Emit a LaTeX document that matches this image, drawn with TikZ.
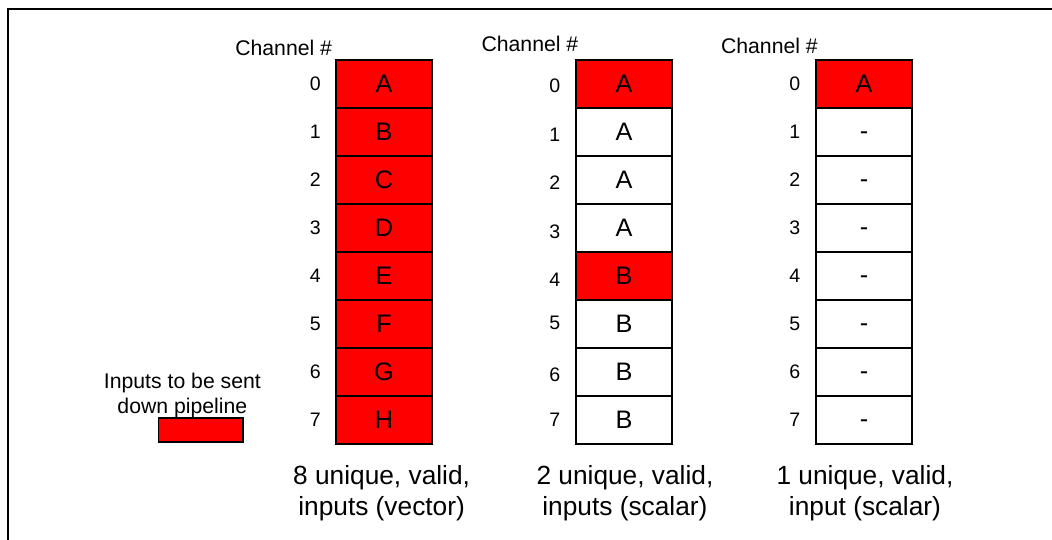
\documentclass[tikz,border=0pt]{standalone}
\usepackage{fontspec}
\setmainfont{Liberation Sans}
\definecolor{rojo}{RGB}{255,0,0}
\tikzset{
	celda/.style={draw=black, line width=1.2pt, minimum width=2.4cm, minimum height=1.2cm, inner sep=0pt, outer sep=0pt, font=\fontsize{18}{18}\selectfont},
	roja/.style={fill=rojo},
	vacia/.style={text height=10.8pt, text depth=0pt},
	canal/.style={font=\fontsize{13.9}{14}\selectfont},
	titulo/.style={font=\fontsize{15.1}{17.8}\selectfont},
	nota/.style={align=center, font=\fontsize{18.7}{22}\selectfont}
}
\begin{document}
\begin{tikzpicture}[scale=1.2]
	\useasboundingbox (0,0) rectangle (21.917,11.25);
	% Marco
		\draw[line width=1.4pt] (0.167,0) -- (0.167,11.056) -- (21.917,11.056);
	
	% Leyenda
		\node[titulo, align=center] (leyenda) at (3.80,3.01) {Inputs to be sent\\down pipeline};
		\node[draw=black, fill=rojo, line width=1.2pt, minimum width=2.11cm, minimum height=0.6cm, inner sep=0pt] (muestra) at (4.18,2.29) {};
	
	% Columna 1: vector
		\node[titulo] (tit1) at (5.91,10.26) {Channel \#};
		\node[celda,roja] (v0) at (8,9.5) {A}; \node[canal] (nv0) at (6.57,9.5) {0};
		\node[celda,roja] (v1) at (8,8.5) {B}; \node[canal] (nv1) at (6.57,8.5) {1};
		\node[celda,roja] (v2) at (8,7.5) {C}; \node[canal] (nv2) at (6.57,7.5) {2};
		\node[celda,roja] (v3) at (8,6.5) {D}; \node[canal] (nv3) at (6.57,6.5) {3};
		\node[celda,roja] (v4) at (8,5.5) {E}; \node[canal] (nv4) at (6.57,5.5) {4};
		\node[celda,roja] (v5) at (8,4.5) {F}; \node[canal] (nv5) at (6.57,4.5) {5};
		\node[celda,roja] (v6) at (8,3.5) {G}; \node[canal] (nv6) at (6.57,3.5) {6};
		\node[celda,roja] (v7) at (8,2.5) {H}; \node[canal] (nv7) at (6.57,2.5) {7};
		\node[nota] (nota1) at (7.95,0.98) {8 unique, valid,\\inputs (vector)};
	
	% Columna 2: escalar, dos entradas
		\node[titulo] (tit2) at (11.04,10.33) {Channel \#};
		\node[celda,roja] (e0) at (13,9.5) {A}; \node[canal] (ne0) at (11.56,9.47) {0};
		\node[celda] (e1) at (13,8.5) {A}; \node[canal] (ne1) at (11.56,8.45) {1};
		\node[celda] (e2) at (13,7.5) {A}; \node[canal] (ne2) at (11.56,7.44) {2};
		\node[celda] (e3) at (13,6.5) {A}; \node[canal] (ne3) at (11.56,6.42) {3};
		\node[celda,roja] (e4) at (13,5.5) {B}; \node[canal] (ne4) at (11.56,5.42) {4};
		\node[celda] (e5) at (13,4.5) {B}; \node[canal] (ne5) at (11.56,4.53) {5};
		\node[celda] (e6) at (13,3.5) {B}; \node[canal] (ne6) at (11.56,3.45) {6};
		\node[celda] (e7) at (13,2.5) {B}; \node[canal] (ne7) at (11.56,2.5) {7};
		\node[nota] (nota2) at (13.02,0.98) {2 unique, valid,\\inputs (scalar)};
	
	% Columna 3: escalar, una entrada
		\node[titulo] (tit3) at (16.03,10.30) {Channel \#};
		\node[celda,roja] (u0) at (18,9.5) {A}; \node[canal] (nu0) at (16.56,9.5) {0};
		\node[celda,vacia] (u1) at (18,8.5) {-}; \node[canal] (nu1) at (16.56,8.5) {1};
		\node[celda,vacia] (u2) at (18,7.5) {-}; \node[canal] (nu2) at (16.56,7.5) {2};
		\node[celda,vacia] (u3) at (18,6.5) {-}; \node[canal] (nu3) at (16.56,6.5) {3};
		\node[celda,vacia] (u4) at (18,5.5) {-}; \node[canal] (nu4) at (16.56,5.5) {4};
		\node[celda,vacia] (u5) at (18,4.5) {-}; \node[canal] (nu5) at (16.56,4.5) {5};
		\node[celda,vacia] (u6) at (18,3.5) {-}; \node[canal] (nu6) at (16.56,3.5) {6};
		\node[celda,vacia] (u7) at (18,2.5) {-}; \node[canal] (nu7) at (16.56,2.5) {7};
		\node[nota] (nota3) at (18.02,0.98) {1 unique, valid,\\input (scalar)};
\end{tikzpicture}
\end{document}
